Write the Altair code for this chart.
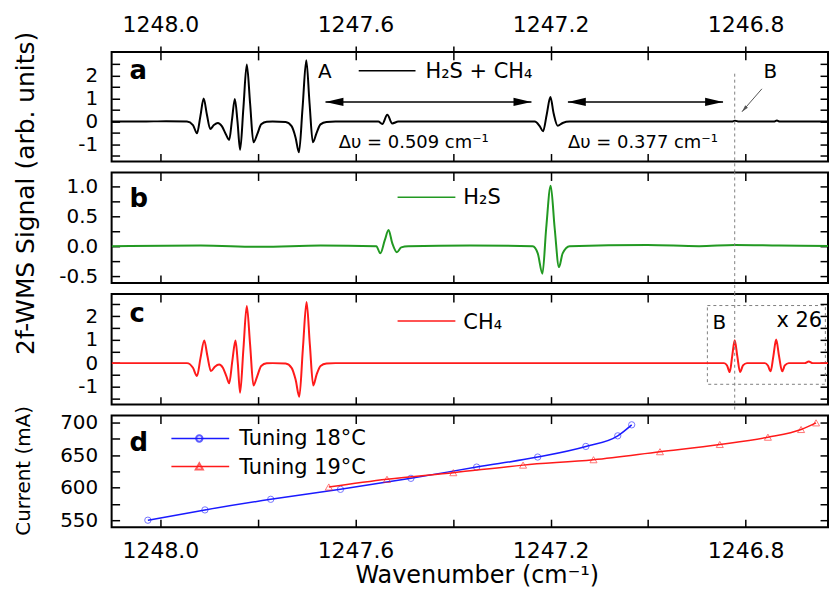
import altair as alt
import pandas as pd

FONT = "DejaVu Sans"
W = 719

# ---------------- data ----------------
# panel a : H2S + CH4 2f-WMS signal
a_wn = [1248.100, 1248.0394, 1247.9884, 1247.9455, 1247.9332, 1247.9250, 1247.9179, 1247.9113,
        1247.9046, 1247.8979, 1247.8903, 1247.8821, 1247.8740, 1247.8658, 1247.8590, 1247.8531,
        1247.8474, 1247.8419, 1247.8366, 1247.8298, 1247.8229, 1247.8161, 1247.8092, 1247.8014,
        1247.7933, 1247.7820, 1247.7698, 1247.7432, 1247.7310, 1247.7228, 1247.7160, 1247.7085,
        1247.7009, 1247.6942, 1247.6874, 1247.6799, 1247.6717, 1247.6595, 1247.6411, 1247.5532,
        1247.5450, 1247.5348, 1247.5246, 1247.5124, 1247.2325, 1247.2223, 1247.2155, 1247.2080,
        1247.2004, 1247.1937, 1247.1855, 1247.1753, 1247.1610, 1246.8280, 1246.8219, 1246.8137,
        1246.7422, 1246.7360, 1246.7299, 1246.614]
a_sig = [0.00, 0.00, 0.02, 0.00, -0.15, -0.51, 0.25, 1.01, 0.30, -0.32, -0.15, -0.06, -0.20, -0.55,
         -0.80, 0.10, 0.99, 0.00, -1.23, 0.60, 2.49, 0.80, -0.90, -0.55, -0.12, -0.01, 0.00, -0.02,
         -0.20, -0.70, -1.34, 0.60, 2.68, 0.80, -0.90, -0.50, -0.12, -0.02, 0.00, 0.00, -0.10, 0.30,
         -0.08, 0.00, 0.00, -0.20, -0.42, 0.30, 1.07, 0.35, -0.18, -0.06, 0.00, 0.00, 0.04, 0.00,
         0.00, 0.05, 0.00, 0.00]

# panel b : H2S
b_wn = [1248.100, 1247.9170, 1247.7943, 1247.6717, 1247.5573, 1247.5491, 1247.5399, 1247.5322,
        1247.5246, 1247.5150, 1247.5062, 1247.4919, 1247.3653, 1247.2366, 1247.2263, 1247.2167,
        1247.2090, 1247.1998, 1247.1916, 1247.1828, 1247.1753, 1247.1610, 1247.0016, 1246.8954,
        1246.8219, 1246.7320, 1246.614]
b_sig = [0.00, 0.01, -0.01, 0.01, 0.00, -0.12, 0.10, 0.27, 0.05, -0.10, -0.02, 0.00, 0.01, 0.00,
         -0.12, -0.46, 0.30, 1.01, 0.30, -0.35, -0.12, 0.00, 0.02, 0.00, 0.02, 0.01, 0.00]

# panel c : CH4 (lines near B shown x 26)
c_wn = [1248.100, 1247.9455, 1247.9332, 1247.9250, 1247.9179, 1247.9101, 1247.9036, 1247.8964,
        1247.8883, 1247.8795, 1247.8719, 1247.8648, 1247.8590, 1247.8525, 1247.8460, 1247.8413,
        1247.8366, 1247.8298, 1247.8229, 1247.8161, 1247.8092, 1247.8014, 1247.7933, 1247.7820,
        1247.7698, 1247.7432, 1247.7310, 1247.7228, 1247.7152, 1247.7079, 1247.7003, 1247.6936,
        1247.6866, 1247.6799, 1247.6717, 1247.6595, 1247.6411, 1246.8443, 1246.8382, 1246.8327,
        1246.8276, 1246.8225, 1246.8172, 1246.8116, 1246.8055, 1246.7973, 1246.7606, 1246.7545,
        1246.7489, 1246.7432, 1246.7375, 1246.7316, 1246.7252, 1246.7197, 1246.7116, 1246.6789,
        1246.6707, 1246.6625, 1246.614]
c_sig = [0.00, 0.00, -0.20, -0.55, 0.20, 0.96, 0.30, -0.34, -0.15, -0.06, -0.20, -0.55, -0.86,
         0.10, 0.96, 0.00, -1.26, 0.60, 2.43, 0.80, -0.95, -0.55, -0.12, -0.01, 0.00, -0.02, -0.20,
         -0.70, -1.43, 0.60, 2.60, 0.80, -0.95, -0.50, -0.12, -0.02, 0.00, 0.00, -0.10, -0.38, 0.30,
         0.97, 0.30, -0.38, -0.10, 0.00, 0.00, -0.10, -0.35, 0.30, 1.00, 0.30, -0.35, -0.10, 0.00,
         0.00, 0.07, 0.00, 0.00]

# panel d : laser current tuning
t18_wn = [1248.0257, 1247.9087, 1247.7738, 1247.6308, 1247.4864, 1247.3516, 1247.2264,
          1247.1277, 1247.0623, 1247.0337]
t18_cur = [550.0, 565.8, 582.1, 597.4, 614.3, 631.6, 647.0, 663.3, 679.6, 696.5]
t19_wn = [1247.6547, 1247.5354, 1247.3994, 1247.2564, 1247.1120, 1246.9757, 1246.8531,
          1246.7544, 1246.6864, 1246.6557]
t19_cur = [601.0, 612.8, 623.0, 634.6, 642.9, 655.2, 666.3, 677.5, 689.3, 699.5]

# axes
x_ticks = [1248.0, 1247.8, 1247.6, 1247.4, 1247.2, 1247.0, 1246.8]
ya_ticks = [-1.5, -1.0, -0.5, 0.0, 0.5, 1.0, 1.5, 2.0, 2.5]
yb_ticks = [-0.5, -0.25, 0.0, 0.25, 0.5, 0.75, 1.0]
yd_ticks = [550, 575, 600, 625, 650, 675, 700]
x_domain = [1246.6312, 1248.1]
ya_domain = [-1.74, 3.04]
yb_domain = [-0.617, 1.233]
yc_domain = [-1.765, 2.94]
yd_domain = [539.3, 710.7]

# annotations (data units)
arrow_x1 = [1247.6615, 1247.1645]
arrow_x2 = [1247.2392, 1246.8464]
arrow_y = [0.86, 0.86]
line_B = 1246.8225
box_x = [1246.8785, 1246.6366]
box_y = [2.45, -0.90]
b_arrow = [1246.7667, 1.43, 1246.8076, 0.43]

# ---------------- helpers ----------------
xs = alt.Scale(domain=x_domain, reverse=True, nice=False, zero=False)


def ysc(d):
    return alt.Scale(domain=d, nice=False, zero=False)


def xaxis(orient, labels=False, tick=8, pad=9):
    kw = dict(orient=orient, values=x_ticks, tickSize=tick, offset=-8, domain=False, grid=False,
              title=None, tickColor="black", tickWidth=1.5, labels=labels)
    if labels:
        kw.update(labelExpr="round(datum.value * 10) % 4 == 0 ? format(datum.value, '.1f') : ''",
                  labelFont=FONT, labelFontSize=22, labelColor="black", labelPadding=pad,
                  labelFlush=False, labelOverlap=False)
    return alt.Axis(**kw)


def yaxis(orient, values, expr=None):
    kw = dict(orient=orient, values=values, tickSize=8, offset=-8, domain=False, grid=False,
              title=None, tickColor="black", tickWidth=1.5, labels=expr is not None)
    if expr:
        kw.update(labelExpr=expr, labelFont=FONT, labelFontSize=20, labelColor="black",
                  labelPadding=14, labelOverlap=False)
    return alt.Axis(**kw)


EXPR_INT = "datum.value % 1 == 0 ? (datum.value < 0 ? '-' : '') + format(abs(datum.value), 'd') : ''"
EXPR_HALF = "(datum.value * 2) % 1 == 0 ? (datum.value < 0 ? '-' : '') + format(abs(datum.value), '.1f') : ''"
EXPR_50 = "datum.value % 50 == 0 ? format(datum.value, 'd') : ''"


def text(s, x, y, size=21, align="left", baseline="alphabetic", bold=False, angle=0, color="black"):
    m = dict(align=align, baseline=baseline, font=FONT, fontSize=size, color=color)
    if bold:
        m["fontWeight"] = "bold"
    if angle:
        m["angle"] = angle
    return alt.Chart(pd.DataFrame({"t": [s]})).mark_text(**m).encode(
        x=alt.value(x), y=alt.value(y), text="t:N")


def seg(x1, x2, y, color, width=1.5):
    return alt.Chart(pd.DataFrame({"k": [0]})).mark_rule(color=color, strokeWidth=width).encode(
        x=alt.value(x1), x2=alt.value(x2), y=alt.value(y))


def carrier(ysc_, yvals, top_labels=False):
    return alt.Chart(pd.DataFrame({"x": [1247.5], "y": [ysc_.domain[0]]})).mark_point(opacity=0).encode(
        x=alt.X("x:Q", scale=xs, axis=xaxis("top", top_labels, 14 if top_labels else 8)),
        y=alt.Y("y:Q", scale=ysc_, axis=yaxis("right", yvals)))


def main_line(wn, sig, color, ysc_, yvals, expr, bottom_labels=False):
    df = pd.DataFrame({"wn": wn, "v": sig})
    return alt.Chart(df).mark_line(color=color, strokeWidth=2, interpolate="monotone", clip=True).encode(
        x=alt.X("wn:Q", scale=xs, axis=xaxis("bottom", bottom_labels, 8, 13)),
        y=alt.Y("v:Q", scale=ysc_, axis=yaxis("left", yvals, expr)))


def vline(ysc_, y_top_val, y1px, y2px):
    if y_top_val is None:
        return alt.Chart(pd.DataFrame({"x": [line_B]})).mark_rule(
            color="#808080", strokeDash=[3, 3], strokeWidth=1).encode(
            x=alt.X("x:Q", scale=xs, axis=None), y=alt.value(y1px), y2=alt.value(y2px))
    return alt.Chart(pd.DataFrame({"x": [line_B], "y": [y_top_val]})).mark_rule(
        color="#808080", strokeDash=[3, 3], strokeWidth=1).encode(
        x=alt.X("x:Q", scale=xs, axis=None), y=alt.Y("y:Q", scale=ysc_, axis=None),
        y2=alt.value(y2px))


LEFT_HEAD = "M0,0L2,-0.45L2,0.45Z"
RIGHT_HEAD = "M0,0L-2,-0.45L-2,0.45Z"
UP_HEAD = "M0,0L-0.5,2L0.5,2Z"

# ---------------- panel a ----------------
ya = ysc(ya_domain)
HA = 110
arr_df = pd.DataFrame({"x1": arrow_x1, "x2": arrow_x2, "y": arrow_y})
arrows = alt.Chart(arr_df).mark_rule(color="black", strokeWidth=1.5).encode(
    x=alt.X("x1:Q", scale=xs, axis=None), x2="x2:Q", y=alt.Y("y:Q", scale=ya, axis=None))
heads_l = alt.Chart(arr_df).mark_point(shape=LEFT_HEAD, size=324, filled=True, color="black", opacity=1).encode(
    x=alt.X("x1:Q", scale=xs, axis=None), y=alt.Y("y:Q", scale=ya, axis=None))
heads_r = alt.Chart(arr_df).mark_point(shape=RIGHT_HEAD, size=324, filled=True, color="black", opacity=1).encode(
    x=alt.X("x2:Q", scale=xs, axis=None), y=alt.Y("y:Q", scale=ya, axis=None))
barr_df = pd.DataFrame({"x1": [b_arrow[0]], "y1": [b_arrow[1]], "x2": [b_arrow[2]], "y2": [b_arrow[3]]})
barr = alt.Chart(barr_df).mark_rule(color="#555555", strokeWidth=1).encode(
    x=alt.X("x1:Q", scale=xs, axis=None), x2="x2:Q",
    y=alt.Y("y1:Q", scale=ya, axis=None), y2="y2:Q")
bhead = alt.Chart(barr_df).mark_point(shape=UP_HEAD, size=49, filled=True, color="#555555", opacity=1, angle=221).encode(
    x=alt.X("x2:Q", scale=xs, axis=None), y=alt.Y("y2:Q", scale=ya, axis=None))

pa = alt.layer(
    main_line(a_wn, a_sig, "black", ya, ya_ticks, EXPR_INT),
    carrier(ya, ya_ticks, top_labels=True),
    vline(ya, 2.09, None, HA + 11),
    arrows, heads_l, heads_r, barr, bhead,
    text("a", 18, 27, size=26, bold=True),
    text("A", 214, 26, size=20, align="center"),
    seg(248, 305, 19, "black"),
    text("H₂S + CH₄", 315, 26, size=21),
    text("B", 661, 26.5, size=20, align="center"),
    text("Δυ = 0.509 cm⁻¹", 228, 96, size=18),
    text("Δυ = 0.377 cm⁻¹", 458, 96, size=18),
).resolve_axis(x="independent", y="independent").properties(width=W, height=HA)

# ---------------- panel b ----------------
yb = ysc(yb_domain)
HB = 111
pb = alt.layer(
    main_line(b_wn, b_sig, "#229922", yb, yb_ticks, EXPR_HALF),
    carrier(yb, yb_ticks),
    vline(yb, None, -1, HB + 11),
    text("b", 18, 35, size=26, bold=True),
    seg(287, 345, 25, "#229922"),
    text("H₂S", 353, 32, size=21),
    text("2f-WMS Signal (arb. units)", -86, 21, size=25, align="center", baseline="middle", angle=270),
).resolve_axis(x="independent", y="independent").properties(width=W, height=HB)

# ---------------- panel c ----------------
yc = ysc(yc_domain)
HC = 111
box = alt.Chart(pd.DataFrame({"x1": [box_x[0]], "x2": [box_x[1]], "y1": [box_y[0]], "y2": [box_y[1]]})).mark_rect(
    fill="white", fillOpacity=0, stroke="#808080", strokeDash=[3, 3], strokeWidth=1).encode(
    x=alt.X("x1:Q", scale=xs, axis=None), x2="x2:Q", y=alt.Y("y1:Q", scale=yc, axis=None), y2="y2:Q")
pc = alt.layer(
    box,
    main_line(c_wn, c_sig, "#ff1a1a", yc, ya_ticks, EXPR_INT),
    carrier(yc, ya_ticks),
    vline(yc, None, -1, HC + 5),
    text("c", 18, 28, size=26, bold=True),
    seg(287, 345, 27, "#ff1a1a"),
    text("CH₄", 353, 35, size=21),
    text("B", 603, 35, size=20),
    text("x 26", 713, 33, size=21, align="right"),
).resolve_axis(x="independent", y="independent").properties(width=W, height=HC)

# ---------------- panel d ----------------
yd = ysc(yd_domain)
HD = 112
BLUE = "#1a1aff"
RED = "#ff1a1a"
d18 = pd.DataFrame({"wn": t18_wn, "c": t18_cur})
d19 = pd.DataFrame({"wn": t19_wn, "c": t19_cur})
l18 = alt.Chart(d18).mark_line(color=BLUE, strokeWidth=1.5, interpolate="monotone").encode(
    x=alt.X("wn:Q", scale=xs, axis=xaxis("bottom", True, 8, 13)),
    y=alt.Y("c:Q", scale=yd, axis=yaxis("left", yd_ticks, EXPR_50)))
p18 = alt.Chart(d18).mark_point(shape="circle", size=40, color=BLUE, strokeWidth=1, opacity=0.6).encode(
    x=alt.X("wn:Q", scale=xs, axis=None), y=alt.Y("c:Q", scale=yd, axis=None))
l19 = alt.Chart(d19).mark_line(color=RED, strokeWidth=1.5, interpolate="monotone").encode(
    x=alt.X("wn:Q", scale=xs, axis=None), y=alt.Y("c:Q", scale=yd, axis=None))
p19 = alt.Chart(d19).mark_point(shape="triangle-up", size=50, color=RED, strokeWidth=1, opacity=0.6).encode(
    x=alt.X("wn:Q", scale=xs, axis=None), y=alt.Y("c:Q", scale=yd, axis=None))
leg_pt18 = alt.Chart(pd.DataFrame({"k": [0]})).mark_point(shape="circle", size=40, color=BLUE, opacity=0.7).encode(
    x=alt.value(88), y=alt.value(23))
leg_pt19 = alt.Chart(pd.DataFrame({"k": [0]})).mark_point(shape="triangle-up", size=50, color=RED, opacity=0.7).encode(
    x=alt.value(88), y=alt.value(51))
pd_ = alt.layer(
    l18, carrier(yd, yd_ticks), p18, l19, p19,
    text("d", 18, 36, size=26, bold=True),
    seg(60, 118, 23, BLUE), leg_pt18, text("Tuning 18°C", 128, 30, size=21),
    seg(60, 118, 51, RED), leg_pt19, text("Tuning 19°C", 128, 59, size=21),
    text("Current (mA)", -88, 55.5, size=20, align="center", baseline="middle", angle=270),
    text("Wavenumber (cm⁻¹)", 367, 168, size=24, align="center"),
).resolve_axis(x="independent", y="independent").properties(width=W, height=HD)

chart = alt.vconcat(pa, pb, pc, pd_, spacing=11, bounds="flush").properties(
    padding={"left": 4, "top": 4, "right": 0, "bottom": 0}
).configure(background="white").configure_view(stroke="black", strokeWidth=2)

chart.save("out.html", embed_options={"renderer": "svg", "actions": False})
